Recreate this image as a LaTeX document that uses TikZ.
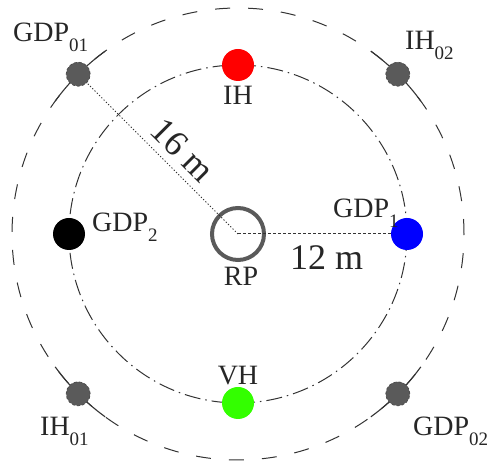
\documentclass[tikz,border=0pt]{standalone}
\usepackage{fontspec}
\setmainfont{Liberation Serif}
\usetikzlibrary{calc}
\definecolor{ln}{HTML}{333333}
\definecolor{gnode}{HTML}{5A5A5A}
\definecolor{vgreen}{HTML}{33FF00}
\newcommand\sbs[1]{\raisebox{-10pt}{\fontsize{19}{20}\selectfont #1}}
\tikzset{
  lbl/.style={font=\fontsize{28}{30}\selectfont, inner sep=0pt, text=black!85},
  dist/.style={font=\fontsize{36}{38}\selectfont, inner sep=0pt, text=black!85},
  cdot/.style={circle, minimum size=32pt, inner sep=0pt, draw=none},
  gdot/.style={circle, minimum size=24pt, inner sep=0pt, fill=gnode, draw=black!70, densely dashed, line width=0.8pt},
  innerc/.style={draw=ln, line width=1pt, dash pattern=on 16pt off 5pt on 1.5pt off 5pt},
  outerc/.style={draw=ln, line width=1pt, dash pattern=on 15pt off 18pt},
  seg/.style={draw=ln, line width=1.1pt},
}
\begin{document}
\begin{tikzpicture}[x=1pt,y=1pt]
\useasboundingbox (0,0) rectangle (490,462);
\coordinate (C) at (238,228);
% circles
\draw[innerc] (C) circle[radius=169pt];
\draw[outerc] (C) circle[radius=226pt];
% tangent segments at gray nodes
\foreach \a in {45,135,225,315}{
  \draw[seg] ([shift={(\a-9:226)}]C) arc[start angle=\a-9, end angle=\a+9, radius=226pt];
}
% reference point
\node[circle, minimum size=52pt, inner sep=0pt, draw=gnode, line width=4pt] (RP) at (C) {};
% gray nodes
\node[gdot] (G01) at ([shift={(135:226)}]C) {};
\node[gdot] (I02) at ([shift={(45:226)}]C) {};
\node[gdot] (I01) at ([shift={(225:226)}]C) {};
\node[gdot] (G02) at ([shift={(315:226)}]C) {};
% measurement lines
\draw[ln, line width=1pt, dash pattern=on 1.2pt off 2pt] (RP.center) -- (G01);
% colored nodes
\node[cdot, fill=red] (IH) at ([shift={(90:169)}]C) {};
\node[cdot, fill=vgreen] (VH) at ([shift={(270:169)}]C) {};
\node[cdot, fill=black] (G2) at ([shift={(180:169)}]C) {};
\node[cdot, fill=blue] (G1) at ([shift={(0:169)}]C) {};
\draw[ln, line width=1pt, dash pattern=on 3pt off 2pt] (RP.center) -- (G1);
% labels
\node[lbl, anchor=base west] (lG01) at (13,420) {GDP\sbs{01}};
\node[lbl, anchor=base west] (lI02) at (405,412) {IH\sbs{02}};
\node[lbl, anchor=base] (lIH) at (238,357) {IH};
\node[lbl, anchor=base west] (lG1) at (333,244) {GDP\sbs{1}};
\node[lbl, anchor=base west] (lG2) at (92,230) {GDP\sbs{2}};
\node[lbl, anchor=base] (lRP) at (241,176) {RP};
\node[lbl, anchor=base] (lVH) at (238,77) {VH};
\node[lbl, anchor=base west] (lI01) at (40,26) {IH\sbs{01}};
\node[lbl, anchor=base west] (lG02) at (413,26) {GDP\sbs{02}};
\node[dist, anchor=base west] (d12) at (290,192) {12 m};
\node[dist, rotate=-45] (d16) at (183,312) {16 m};
\end{tikzpicture}
\end{document}
